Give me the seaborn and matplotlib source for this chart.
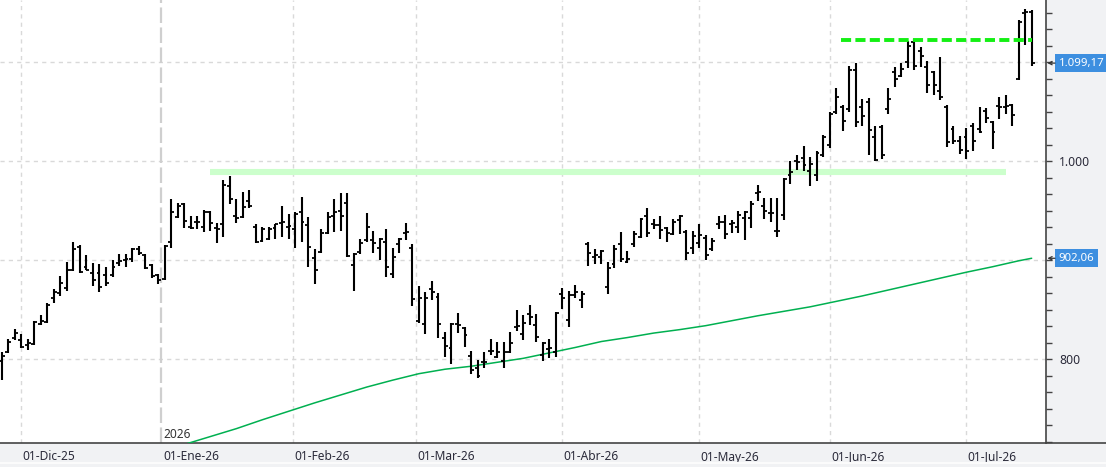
import numpy as np
import pandas as pd
import matplotlib
matplotlib.use("Agg")
import matplotlib.pyplot as plt
import seaborn as sns
from matplotlib.ticker import MultipleLocator
from matplotlib.patches import Rectangle
from matplotlib.lines import Line2D

# ---------------- data ----------------
opens = [798, 807, 822, 820, 814, 815, 836, 838, 862, 867, 872, 890, 913, 893, 887, 887, 885, 885, 897, 900,
         901, 911, 905, 895, 885, 881, 918, 944, 957, 934, 939, 934, 949, 933, 937, 975, 945, 944, 960, 934,
         920, 922, 933, 938, 934, 932, 949, 936, 902, 908, 928, 945, 950, 958, 895, 908, 921, 921, 912, 919,
         886, 916, 928, 912, 839, 836, 871, 863, 822, 811, 836, 832, 803, 791, 797, 808, 802, 798, 807, 833,
         826, 846, 835, 804, 810, 807, 866, 840, 865, 860, 916, 903, 903, 873, 896, 916, 898, 916, 924, 945,
         937, 936, 933, 927, 941, 929, 912, 917, 923, 911, 937, 939, 937, 934, 943, 943, 968, 955, 948, 930,
         946, 986, 1000, 1003, 990, 986, 1006, 1016, 1050, 1055, 1053, 1092, 1055, 1060, 1025, 1035, 1053, 1090, 1086, 1100,
         1120, 1111, 1095, 1090, 1071, 1055, 1033, 1021, 1025, 1036, 1033, 1051, 1040, 1056, 1055, 1057, 1083, 1150, 1151]
highs = [807, 821, 831, 826, 821, 839, 845, 857, 871, 884, 898, 919, 915, 905, 897, 896, 893, 900, 906, 906,
         912, 914, 906, 896, 886, 915, 962, 958, 958, 945, 945, 951, 950, 938, 981, 985, 962, 969, 971, 937,
         934, 934, 937, 955, 947, 949, 964, 944, 911, 932, 949, 962, 968, 968, 907, 922, 948, 930, 923, 932,
         912, 923, 938, 916, 874, 868, 879, 867, 828, 837, 847, 833, 808, 799, 807, 821, 817, 817, 828, 850,
         845, 855, 846, 818, 821, 848, 872, 869, 875, 869, 919, 911, 910, 898, 915, 929, 909, 930, 943, 953,
         942, 945, 934, 942, 946, 931, 930, 937, 926, 923, 945, 946, 941, 950, 950, 960, 976, 963, 963, 963,
         983, 1000, 1006, 1015, 1004, 1010, 1027, 1050, 1074, 1057, 1096, 1099, 1063, 1064, 1036, 1037, 1074, 1095, 1099, 1121,
         1124, 1115, 1101, 1091, 1105, 1057, 1036, 1026, 1034, 1039, 1055, 1054, 1041, 1065, 1067, 1058, 1143, 1154, 1153]
lows = [779, 806, 820, 811, 809, 814, 835, 837, 857, 864, 869, 889, 887, 890, 874, 868, 874, 883, 894, 893,
        898, 905, 891, 882, 876, 880, 912, 943, 933, 932, 932, 929, 930, 917, 924, 957, 938, 943, 953, 917,
        919, 921, 922, 924, 922, 912, 918, 893, 876, 907, 927, 929, 930, 903, 869, 906, 919, 907, 900, 883,
        882, 907, 921, 854, 837, 826, 860, 822, 802, 795, 827, 812, 785, 781, 791, 804, 801, 791, 806, 829,
        820, 835, 817, 798, 801, 802, 851, 833, 862, 852, 894, 896, 896, 866, 892, 898, 897, 913, 923, 924,
        932, 922, 919, 926, 927, 900, 906, 912, 900, 909, 932, 922, 928, 928, 921, 933, 960, 942, 939, 924,
        941, 977, 991, 990, 975, 980, 1004, 1013, 1048, 1031, 1050, 1035, 1036, 1006, 1000, 1002, 1048, 1075, 1085, 1094,
        1092, 1095, 1069, 1067, 1062, 1014, 1017, 1007, 1002, 1010, 1029, 1039, 1012, 1043, 1048, 1036, 1082, 1117, 1096]
closes = [803, 817, 827, 812, 816, 838, 839, 855, 868, 877, 890, 911, 888, 890, 880, 873, 877, 893, 899, 901,
          911, 907, 892, 884, 880, 914, 949, 955, 940, 933, 939, 949, 938, 932, 976, 962, 943, 954, 955, 919,
          932, 932, 937, 939, 935, 947, 939, 913, 890, 928, 944, 949, 945, 904, 906, 917, 934, 917, 922, 893,
          903, 922, 929, 861, 862, 862, 868, 836, 813, 836, 835, 825, 789, 783, 797, 808, 807, 807, 816, 834,
          837, 843, 823, 816, 811, 847, 862, 865, 868, 866, 907, 905, 909, 892, 911, 901, 901, 927, 942, 928,
          936, 931, 928, 939, 945, 907, 925, 926, 905, 920, 939, 927, 938, 946, 949, 957, 969, 950, 948, 930,
          982, 989, 999, 996, 997, 1008, 1025, 1048, 1065, 1041, 1092, 1040, 1046, 1032, 1001, 1006, 1063, 1083, 1093, 1116,
          1096, 1106, 1077, 1077, 1065, 1019, 1021, 1011, 1010, 1021, 1030, 1044, 1030, 1055, 1056, 1047, 1141, 1151, 1099.17]

# moving average (read at sampled bars)
ma_bar = [28, 32, 36, 40, 44, 48, 52, 56, 60, 64, 68, 72, 76, 80, 84, 88, 92, 96, 100, 104,
          108, 112, 116, 120, 124, 128, 132, 136, 140, 144, 148, 152, 156, 158]
ma_val = [714, 722, 730, 739, 747.5, 756, 764, 772, 779, 785.5, 790, 793, 797, 801, 806.5, 812, 818, 822, 826.5, 830,
          834, 839, 844, 848.5, 853, 858.5, 864, 870, 876, 882, 888, 893.5, 899.5, 902.06]

month_labels = ["01-Dic-25", "01-Ene-26", "01-Feb-26", "01-Mar-26", "01-Abr-26", "01-May-26", "01-Jun-26", "01-Jul-26"]
month_bar = [3.0, 24.5, 44.7, 63.6, 86.0, 107.0, 127.0, 147.9]
year_label = "2026"

support_level = 989
support_span = (31.9, 154.0)
resist_level = 1122
resist_span = (128.8, 158.0)

last_close = closes[-1]
ma_last = ma_val[-1]

# ---------------- styling ----------------
sns.set_theme(style="white")
plt.rcParams['font.family'] = ['Noto Sans', 'DejaVu Sans']

W, H = 1106, 467
AX_R, AX_B = 1046, 443
fig = plt.figure(figsize=(W / 100, H / 100), dpi=100, facecolor='#f1f2f4')
ax = fig.add_axes([0, (H - AX_B) / H, AX_R / W, AX_B / H])
ax.set_facecolor('white')

df = pd.DataFrame({'open': opens, 'high': highs, 'low': lows, 'close': closes})
df['bar'] = np.arange(len(df))

ax.set_xlim(-0.26, 160.2)
ax.set_ylim(715.5, 1162.9)

grid_c = '#d9d9d9'
for v in [800, 900, 1000, 1100]:
    ax.axhline(v, color=grid_c, lw=1.0, ls=(0, (3, 3)), zorder=1)
for lab, p in zip(month_labels, month_bar):
    if lab == "01-Ene-26":
        ax.axvline(p, color='#cfcfcf', lw=1.6, ls=(0, (7, 2)), zorder=1)
    else:
        ax.axvline(p, color=grid_c, lw=1.0, ls=(0, (3, 3)), zorder=1)

# support band and resistance line
ax.hlines(support_level, *support_span, color='#ccffcc', lw=4.4, zorder=2, capstyle='butt')
ax.hlines(resist_level, *resist_span, color='#14f014', lw=2.8, ls=(0, (2.6, 1.1)), zorder=5)

# moving average
sns.lineplot(x=ma_bar, y=ma_val, ax=ax, color='#00b050', lw=1.1, zorder=3)

# OHLC bars
tk = 0.45
ax.vlines(df['bar'], df['low'], df['high'], color='black', lw=1.5, zorder=4)
ax.hlines(df['open'], df['bar'] - tk, df['bar'], color='black', lw=1.3, zorder=4)
ax.hlines(df['close'], df['bar'], df['bar'] + tk, color='black', lw=1.3, zorder=4)

# spines
for s in ['top', 'left']:
    ax.spines[s].set_visible(False)
for s in ['bottom', 'right']:
    ax.spines[s].set_color('#444444')
    ax.spines[s].set_linewidth(1.2)
fig.add_artist(Line2D([AX_R / W, 1], [(H - AX_B) / H] * 2, transform=fig.transFigure,
                      color='#444444', lw=1.2))
fig.patches.append(Rectangle((0, 3 / H), 1, 2 / H, transform=fig.transFigure,
                             fc='#fbfbfb', ec='none'))

# y axis on the right
def es_fmt(v, dec=0):
    s = f"{v:,.{dec}f}"
    return s.replace(',', 'X').replace('.', ',').replace('X', '.')

ax.yaxis.tick_right()
ax.set_yticks([800, 900, 1000, 1100])
ax.set_yticklabels([es_fmt(800), '', es_fmt(1000), ''])
ax.yaxis.set_minor_locator(MultipleLocator(100 / 6))
ax.tick_params(axis='y', which='both', direction='out', color='#444444', width=1.0,
               labelsize=8.8, labelcolor='#2b2b3a', pad=5.5)
ax.tick_params(axis='y', which='major', length=4)
ax.tick_params(axis='y', which='minor', length=4)

# x axis
ax.set_xticks(month_bar)
ax.set_xticklabels([])
ax.tick_params(axis='x', which='major', direction='out', length=6.5, width=1.0, color='#444444')
for lab, p in zip(month_labels, month_bar):
    ax.annotate(lab, xy=(p, 0), xycoords=('data', 'axes fraction'), xytext=(1.5, -14),
                textcoords='offset pixels', ha='left', va='center', fontsize=8.6,
                color='#2b2b3a', annotation_clip=False)
ax.annotate(year_label, xy=(month_bar[1], 0), xycoords=('data', 'axes fraction'), xytext=(1.5, 8),
            textcoords='offset pixels', ha='left', va='center', fontsize=8.6, color='#333333')

# value boxes on the right
for v, txt in [(last_close, es_fmt(last_close, 2)), (ma_last, es_fmt(ma_last, 2))]:
    ax.annotate(txt, xy=(1.0, v), xycoords=('axes fraction', 'data'), xytext=(12.5, 0),
                textcoords='offset pixels', ha='left', va='center', fontsize=8.2, color='white',
                bbox=dict(boxstyle='square,pad=0.3', fc='#3d8fe0', ec='none'), annotation_clip=False)
    ax.annotate('', xy=(1.0, v), xycoords=('axes fraction', 'data'), xytext=(9, 0),
                textcoords='offset pixels',
                arrowprops=dict(arrowstyle='->', color='#333333', lw=0.9, shrinkA=0, shrinkB=1,
                                mutation_scale=6), annotation_clip=False)

fig.savefig('out.png', dpi=100, facecolor=fig.get_facecolor())
